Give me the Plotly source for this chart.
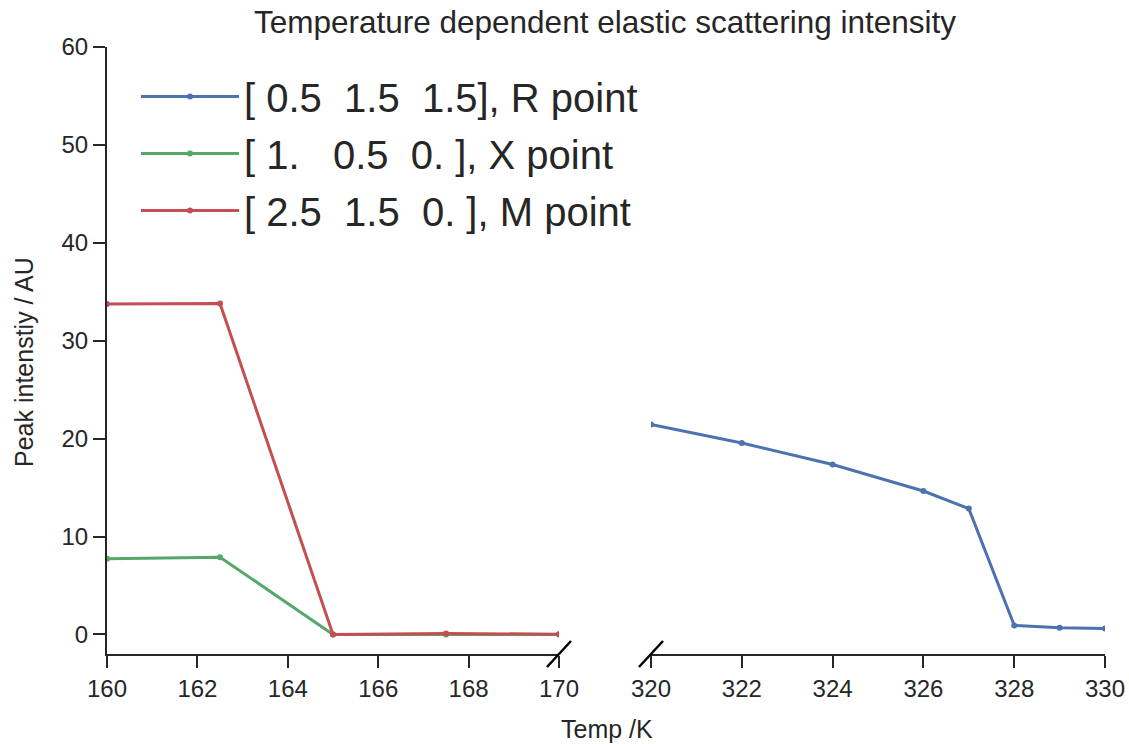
import plotly.graph_objects as go

# ---- data ----
temp_low = [160, 162.5, 165, 167.5, 170]
x_point = [7.72, 7.89, 0.0, 0.0, 0.0]
m_point = [33.75, 33.8, 0.0, 0.1, 0.02]

temp_high = [320, 322, 324, 326, 327, 328, 329, 330]
r_point = [21.45, 19.55, 17.35, 14.65, 12.85, 0.92, 0.68, 0.6]

labels = ["[ 0.5  1.5  1.5], R point", "[ 1.   0.5  0. ], X point", "[ 2.5  1.5  0. ], M point"]
colors = ["#4C72B0", "#55A868", "#C44E52"]

W, H = 1129, 744
ML, MR, MT, MB = 107, 24, 47, 90
PW = W - ML - MR
PH = H - MT - MB

def px_x(px):
    return (px - ML) / PW

def px_y(py):
    return (H - MB - py) / PH

fig = go.Figure()
fig.add_trace(go.Scatter(x=temp_high, y=r_point, xaxis="x2", yaxis="y2", mode="lines+markers",
                         name=labels[0], legendgroup="r",
                         line=dict(color=colors[0], width=3), marker=dict(size=6, color=colors[0])))
fig.add_trace(go.Scatter(x=temp_low, y=x_point, xaxis="x", yaxis="y", mode="lines+markers",
                         name=labels[1], legendgroup="x",
                         line=dict(color=colors[1], width=3), marker=dict(size=6, color=colors[1])))
fig.add_trace(go.Scatter(x=temp_low, y=m_point, xaxis="x", yaxis="y", mode="lines+markers",
                         name=labels[2], legendgroup="m",
                         line=dict(color=colors[2], width=3), marker=dict(size=6, color=colors[2])))

axcol = "#262626"
fam = "Liberation Sans, Arial, sans-serif"
tickfont = dict(family=fam, size=24, color=axcol)

axis_common = dict(showline=True, linecolor=axcol, linewidth=2, ticks="outside",
                   ticklen=12, tickwidth=2, tickcolor=axcol, showgrid=False, zeroline=False,
                   tickfont=tickfont, automargin=False)

fig.update_layout(
    width=W, height=H,
    margin=dict(l=ML, r=MR, t=MT, b=MB, autoexpand=False),
    plot_bgcolor="white", paper_bgcolor="white",
    font=dict(family=fam, color=axcol),
    showlegend=True,
    title=dict(text="Temperature dependent elastic scattering intensity",
               x=605 / W, xref="container", xanchor="center",
               y=1 - 22 / H, yref="container", yanchor="middle",
               font=dict(size=31.5, color=axcol)),
    xaxis=dict(domain=[0, px_x(559)], range=[160, 170], dtick=2, anchor="y", **axis_common),
    xaxis2=dict(domain=[px_x(651), px_x(1105)], range=[320, 330], dtick=2, anchor="y2", **axis_common),
    yaxis=dict(domain=[0, 1], range=[-2, 60], dtick=10, anchor="x", **axis_common),
    yaxis2=dict(domain=[0, 1], range=[-2, 60], anchor="x2", matches="y",
                showline=False, showticklabels=False, ticks="", showgrid=False, zeroline=False),
    legend=dict(x=px_x(136), y=px_y(64), xanchor="left", yanchor="top",
                font=dict(size=40, color=axcol, family=fam), bgcolor="rgba(0,0,0,0)",
                tracegroupgap=2, traceorder="grouped", itemwidth=98),
)

# axis titles
fig.add_annotation(text="Temp /K", xref="paper", yref="paper", x=px_x(607), y=px_y(729),
                   showarrow=False, font=dict(size=25, color=axcol), xanchor="center", yanchor="middle")
fig.add_annotation(text="Peak intenstiy / AU", xref="paper", yref="paper", x=px_x(24), y=px_y(362),
                   showarrow=False, textangle=-90, font=dict(size=25, color=axcol),
                   xanchor="center", yanchor="middle")

# broken-axis marks
for cx in (559, 651):
    fig.add_shape(type="line", xref="paper", yref="paper",
                  x0=px_x(cx - 12), y0=px_y(667), x1=px_x(cx + 12), y1=px_y(641),
                  line=dict(color="black", width=2.5))

fig.write_html("out.html")
